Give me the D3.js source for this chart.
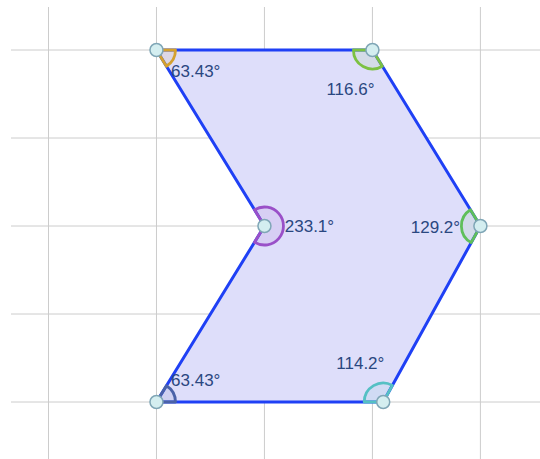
<!DOCTYPE html>
<html>
<head>
<meta charset="utf-8">
<script src="https://cdn.jsdelivr.net/npm/d3@7"></script>
<style>
  body { margin: 0; background: #fff; }
</style>
</head>
<body>
<div id="chart-area"></div>
<script>
// DATA - polygon vertices in grid units, in drawing order
const vertexX = [1, 3, 4, 3.1, 1, 2]
const vertexY = [4, 4, 2, 0, 0, 2]
const angleLabels = ["63.43°", "116.6°", "129.2°", "114.2°", "63.43°", "233.1°"]
const gridX = [0, 1, 2, 3, 4]
const gridY = [0, 1, 2, 3, 4]

// angle colours, one per vertex
const angleColors = ["#d4a130", "#7cc142", "#5fbf5a", "#55c0c4", "#4a62a8", "#9a50c8"]

const WIDTH = 540
const HEIGHT = 459

const svg = d3.select("#chart-area").append("svg")
	.attr("width", WIDTH)
	.attr("height", HEIGHT)

// SCALES
const x = d3.scaleLinear().domain([0, 4]).range([48.5, 480.4])
const y = d3.scaleLinear().domain([0, 4]).range([402, 50])

// GRID
svg.append("g").selectAll("line.v")
	.data(gridX)
	.enter().append("line")
	.attr("x1", d => x(d)).attr("x2", d => x(d))
	.attr("y1", 7).attr("y2", HEIGHT)
	.attr("stroke", "#cccccc")
	.attr("stroke-width", 1)

svg.append("g").selectAll("line.h")
	.data(gridY)
	.enter().append("line")
	.attr("x1", 11).attr("x2", WIDTH)
	.attr("y1", d => y(d)).attr("y2", d => y(d))
	.attr("stroke", "#cccccc")
	.attr("stroke-width", 1)

// points in pixels
const pts = vertexX.map((vx, i) => [x(vx), y(vertexY[i])])
const n = pts.length

// POLYGON FILL
svg.append("path")
	.attr("d", d3.line()(pts) + "Z")
	.attr("fill", "#dedefa")
	.attr("stroke", "none")

// POLYGON EDGES
svg.append("path")
	.attr("d", d3.line()(pts) + "Z")
	.attr("fill", "none")
	.attr("stroke", "#1f40f5")
	.attr("stroke-width", 3)
	.attr("stroke-linejoin", "round")

// ANGLE SECTORS
const R = 19
const angleInfo = pts.map((p, i) => {
	const prev = pts[(i - 1 + n) % n]
	const next = pts[(i + 1) % n]
	const aNext = Math.atan2(next[1] - p[1], next[0] - p[0])
	let aPrev = Math.atan2(prev[1] - p[1], prev[0] - p[0])
	while (aPrev < aNext) aPrev += 2 * Math.PI
	const sweep = aPrev - aNext
	return { p, aNext, aPrev, sweep, mid: aNext + sweep / 2 }
})

svg.append("g").selectAll("path")
	.data(angleInfo)
	.enter().append("path")
	.attr("d", d => {
		const [px, py] = d.p
		const sx = px + R * Math.cos(d.aNext), sy = py + R * Math.sin(d.aNext)
		const ex = px + R * Math.cos(d.aPrev), ey = py + R * Math.sin(d.aPrev)
		const large = d.sweep > Math.PI ? 1 : 0
		return `M${px},${py}L${sx},${sy}A${R},${R} 0 ${large} 1 ${ex},${ey}Z`
	})
	.attr("fill", (d, i) => angleColors[i])
	.attr("fill-opacity", 0.1)
	.attr("stroke", (d, i) => angleColors[i])
	.attr("stroke-width", 2.8)
	.attr("stroke-linejoin", "round")

// ANGLE LABELS - placed along the bisector
svg.append("g").selectAll("text")
	.data(angleInfo)
	.enter().append("text")
	.attr("x", d => d.p[0] + 45 * Math.cos(d.mid))
	.attr("y", d => d.p[1] + 45 * Math.sin(d.mid))
	.attr("text-anchor", "middle")
	.attr("dominant-baseline", "central")
	.attr("font-family", "Liberation Sans, Arial, sans-serif")
	.attr("font-size", "17px")
	.attr("fill", "#2a4780")
	.text((d, i) => angleLabels[i])

// VERTEX POINTS
svg.append("g").selectAll("circle")
	.data(pts)
	.enter().append("circle")
	.attr("cx", d => d[0])
	.attr("cy", d => d[1])
	.attr("r", 6.5)
	.attr("fill", "#d4eef0")
	.attr("stroke", "#7fa6b6")
	.attr("stroke-width", 1.5)
</script>
</body>
</html>
